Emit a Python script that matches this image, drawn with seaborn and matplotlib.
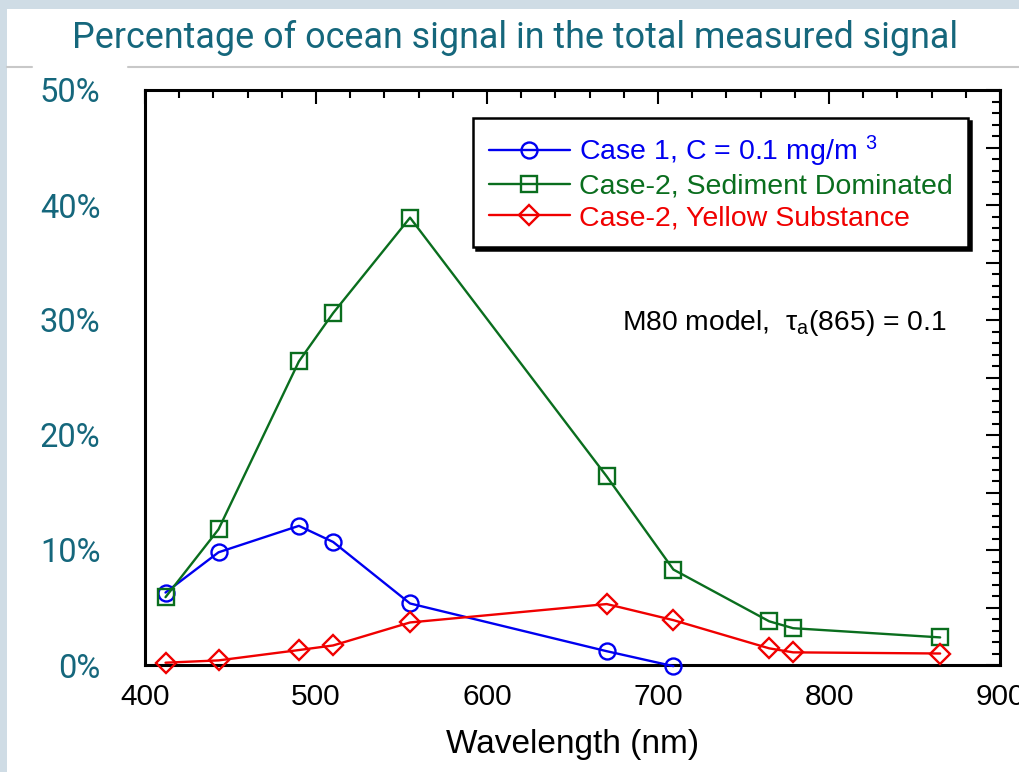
import matplotlib
matplotlib.use("Agg")
import matplotlib.pyplot as plt
import matplotlib.ticker as mticker
from matplotlib.lines import Line2D
from matplotlib.patches import Rectangle
import seaborn as sns
import pandas as pd

# ---------------- data ----------------
wl_case1 = [412, 443, 490, 510, 555, 670, 709]
case1 = [6.3, 9.8, 12.1, 10.7, 5.35, 1.2, -0.1]
wl_case2 = [412, 443, 490, 510, 555, 670, 709, 765, 779, 865]
sediment = [5.9, 11.8, 26.4, 30.6, 38.9, 16.4, 8.3, 3.8, 3.2, 2.4]
yellow = [0.2, 0.4, 1.3, 1.7, 3.7, 5.3, 3.9, 1.45, 1.1, 1.0]

labels = ["Case 1, C = 0.1 mg/m $^{3}$",
          "Case-2, Sediment Dominated",
          "Case-2, Yellow Substance"]
title = "Percentage of ocean signal in the total measured signal"
xlabel = "Wavelength (nm)"
note = r"M80 model,  $\mathrm{\tau_a}$(865) = 0.1"

# ---------------- style ----------------
sns.set_style("white")
plt.rcParams["font.family"] = ["Liberation Sans", "DejaVu Sans"]
plt.rcParams["mathtext.fontset"] = "custom"
plt.rcParams["mathtext.rm"] = "Liberation Sans"
plt.rcParams["mathtext.it"] = "Liberation Sans"
plt.rcParams["mathtext.default"] = "rm"

teal = "#15677c"
blue = "#0000f0"
green = "#0a6e1e"
red = "#f00000"

fig = plt.figure(figsize=(10.19, 7.72), dpi=100, facecolor="#cfdce5")
# white slide area
fig.add_artist(Rectangle((7 / 1019, 0), 1 - 7 / 1019, 1 - 9 / 772,
                         transform=fig.transFigure, facecolor="white",
                         edgecolor="none", zorder=0))
# gray separator line under the title (with a gap behind the 50% label)
yl = 1 - 67 / 772
fig.add_artist(Line2D([7 / 1019, 32 / 1019], [yl, yl], transform=fig.transFigure,
                      color="#c8c8c8", lw=1.5))
fig.add_artist(Line2D([128 / 1019, 1.0], [yl, yl], transform=fig.transFigure,
                      color="#c8c8c8", lw=1.5))

fig.text(515 / 1019, 1 - 38 / 772, title, ha="center", va="center",
         fontsize=25.8, color=teal, family="Roboto")

ax = fig.add_axes([145 / 1019, 1 - 665 / 772, 855 / 1019, 575 / 772])
ax.set_facecolor("white")

series = [
    (wl_case1, case1, blue, "o", 11.5, labels[0]),
    (wl_case2, sediment, green, "s", 12, labels[1]),
    (wl_case2, yellow, red, "D", 10, labels[2]),
]
for xs, ys, c, m, ms, lab in series:
    df = pd.DataFrame({"wl": xs, "pct": ys})
    sns.lineplot(data=df, x="wl", y="pct", ax=ax, color=c, linewidth=1.7,
                 marker=m, markersize=ms, markerfacecolor="none",
                 markeredgecolor=c, markeredgewidth=1.7, label=lab,
                 sort=False, clip_on=False, zorder=3)

ax.set_xlim(400, 900)
ax.set_ylim(0, 50)
ax.xaxis.set_major_locator(mticker.MultipleLocator(100))
ax.xaxis.set_minor_locator(mticker.MultipleLocator(20))
ax.yaxis.set_major_locator(mticker.MultipleLocator(5))
ax.yaxis.set_minor_locator(mticker.MultipleLocator(1))
ax.yaxis.set_major_formatter(mticker.FuncFormatter(
    lambda v, p: f"{int(round(v))}%" if int(round(v)) % 10 == 0 else ""))

for s in ax.spines.values():
    s.set_linewidth(2.2)
    s.set_color("black")

ax.tick_params(axis="both", which="major", direction="in", length=10, width=1.5,
               top=True, right=True, color="black")
ax.tick_params(axis="both", which="minor", direction="in", length=5.5, width=1.5,
               top=True, right=True, color="black")
ax.tick_params(axis="x", which="major", labelsize=21.5, pad=13, labelcolor="black")
ax.tick_params(axis="y", which="major", labelsize=23.5, pad=32, labelcolor=teal,
               labelfontfamily="Roboto")

ax.set_xlabel(xlabel, fontsize=24, labelpad=13, color="black")
ax.set_ylabel("")

ax.text((622 - 145) / 855, (665 - 330) / 575, note, transform=ax.transAxes,
        ha="left", va="baseline", fontsize=20.3, color="black")

leg = ax.legend(loc="upper right", bbox_to_anchor=((968 - 145) / 855, (665 - 118) / 575),
                borderaxespad=0, fontsize=20.5, frameon=True, fancybox=False,
                edgecolor="black", framealpha=1, handlelength=2.85,
                handletextpad=0.3, labelspacing=0.18, borderpad=0.55,
                shadow={"color": "black", "alpha": 1})
leg.get_frame().set_linewidth(1.8)
for t, c in zip(leg.get_texts(), [blue, green, red]):
    t.set_color(c)

fig.savefig("out.png", dpi=100, facecolor=fig.get_facecolor())
